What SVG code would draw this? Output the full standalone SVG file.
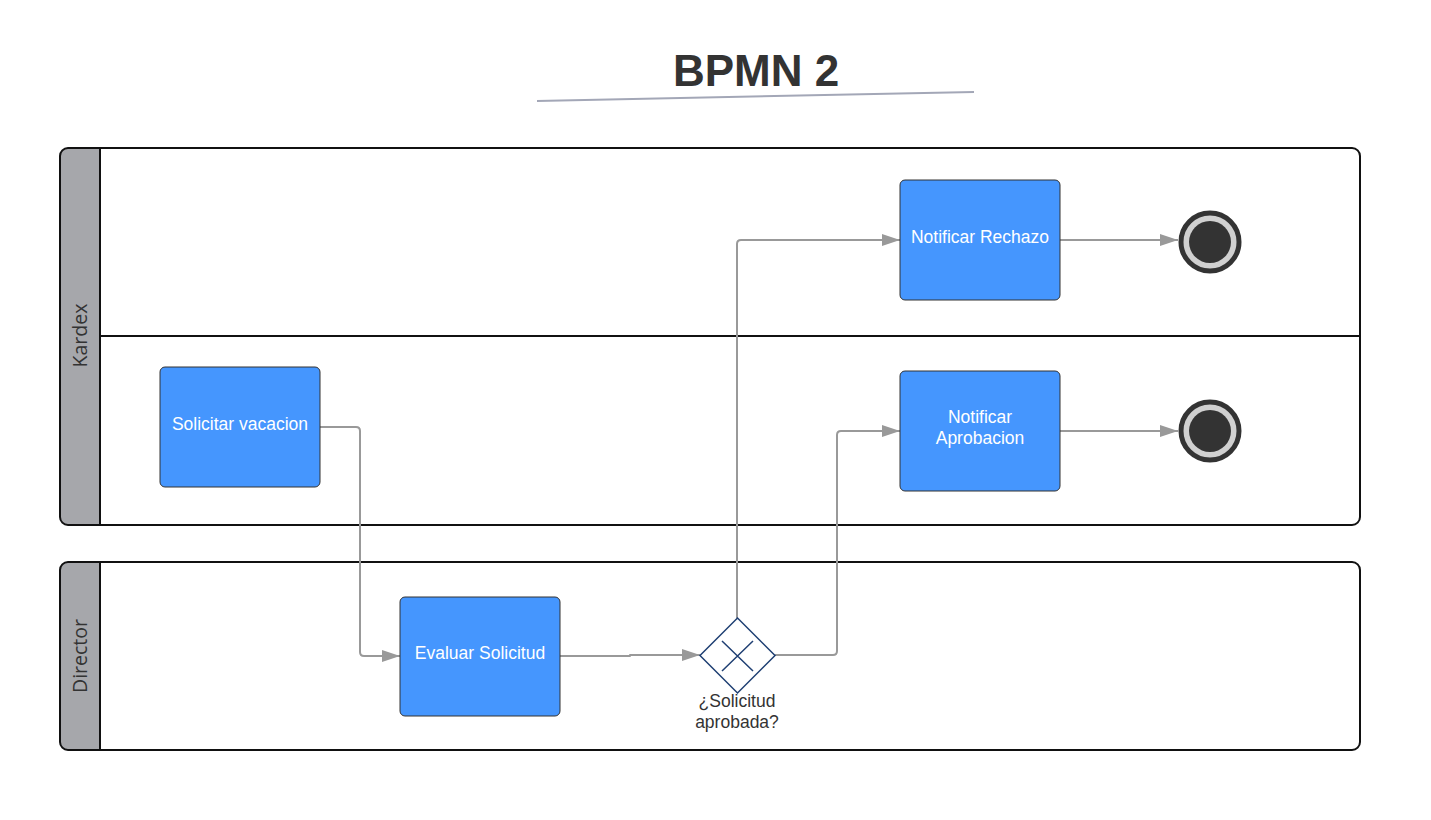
<svg xmlns="http://www.w3.org/2000/svg" width="1431" height="820" viewBox="0 0 1431 820">
<defs>
<style>
.pool{fill:#ffffff;stroke:#111;stroke-width:2}
.hdr{fill:#a6a7ab}
.lbl{font-family:"Open Sans","Liberation Sans",Arial,sans-serif;font-size:19.5px;fill:#333;text-anchor:middle}
.task{fill:#4596fe;stroke:#333;stroke-width:1}
.tt{font-family:"Liberation Sans",Arial,sans-serif;font-size:17.5px;fill:#fff;text-anchor:middle}
.conn{fill:none;stroke:#999;stroke-width:2;stroke-linejoin:round}
.gw{fill:#fff;stroke:#1f3f73;stroke-width:1.5}
.gl{font-family:"Liberation Sans",Arial,sans-serif;font-size:17.5px;fill:#333;text-anchor:middle}
</style>
<marker id="arr" viewBox="0 0 18 12" refX="18" refY="6" markerWidth="18" markerHeight="12" markerUnits="userSpaceOnUse" orient="auto">
<path d="M0,0 L18,6 L0,12 Z" fill="#999"/>
</marker>
<clipPath id="c1"><rect x="60" y="148" width="1300" height="377" rx="8"/></clipPath>
<clipPath id="c2"><rect x="60" y="562" width="1300" height="188" rx="8"/></clipPath>
</defs>
<rect width="1431" height="820" fill="#fff"/>
<g id="title">
<text x="756" y="86" font-family="Liberation Sans,Arial,sans-serif" font-size="44" font-weight="bold" fill="#333" text-anchor="middle">BPMN 2</text>
<line x1="537" y1="101" x2="974" y2="92" stroke="#a3a7b7" stroke-width="2"/>
</g>
<g id="pool-kardex">
<rect x="60" y="148" width="1300" height="377" rx="8" fill="#fff"/>
<rect x="60" y="148" width="40" height="377" class="hdr" clip-path="url(#c1)"/>
<line x1="100" y1="148" x2="100" y2="525" stroke="#111" stroke-width="2"/>
<line x1="100" y1="336" x2="1360" y2="336" stroke="#111" stroke-width="2"/>
<rect x="60" y="148" width="1300" height="377" rx="8" fill="none" stroke="#111" stroke-width="2"/>
<text class="lbl" transform="translate(86.5,335.5) rotate(-90)">Kardex</text>
</g>
<g id="pool-director">
<rect x="60" y="562" width="1300" height="188" rx="8" fill="#fff"/>
<rect x="60" y="562" width="40" height="188" class="hdr" clip-path="url(#c2)"/>
<line x1="100" y1="562" x2="100" y2="750" stroke="#111" stroke-width="2"/>
<rect x="60" y="562" width="1300" height="188" rx="8" fill="none" stroke="#111" stroke-width="2"/>
<text class="lbl" transform="translate(86.5,656) rotate(-90)">Director</text>
</g>
<g id="connectors">
<path class="conn" marker-end="url(#arr)" d="M320,427 H356 Q360,427 360,431 V652 Q360,656 364,656 H400"/>
<path class="conn" marker-end="url(#arr)" d="M560,656 H630 V655 H700"/>
<path class="conn" marker-end="url(#arr)" d="M737,618 V244 Q737,240 741,240 H900"/>
<path class="conn" marker-end="url(#arr)" d="M775,655 H833 Q837,655 837,651 V435 Q837,431 841,431 H900"/>
<path class="conn" marker-end="url(#arr)" d="M1060,240 H1178"/>
<path class="conn" marker-end="url(#arr)" d="M1060,431 H1178"/>
</g>
<g id="task-solicitar">
<rect class="task" x="160" y="367" width="160" height="120" rx="5"/>
<text class="tt" x="240" y="430">Solicitar vacacion</text>
</g>
<g id="task-evaluar">
<rect class="task" x="400" y="597" width="160" height="119" rx="5"/>
<text class="tt" x="480" y="659">Evaluar Solicitud</text>
</g>
<g id="task-rechazo">
<rect class="task" x="900" y="180" width="160" height="120" rx="5"/>
<text class="tt" x="980" y="243">Notificar Rechazo</text>
</g>
<g id="task-aprobacion">
<rect class="task" x="900" y="371" width="160" height="120" rx="5"/>
<text class="tt" x="980" y="423">Notificar</text>
<text class="tt" x="980" y="444">Aprobacion</text>
</g>
<g id="gateway">
<path class="gw" d="M737.5,618 L775,655.5 L737.5,693 L700,655.5 Z"/>
<path d="M722,641 L753,671 M753,641 L722,671" stroke="#1f3f73" stroke-width="1.5" fill="none"/>
<text class="gl" x="737" y="707">¿Solicitud</text>
<text class="gl" x="737" y="728">aprobada?</text>
</g>
<g id="end-rechazo">
<circle cx="1210" cy="242" r="29" fill="#d0d0d0" stroke="#333" stroke-width="5"/>
<circle cx="1210" cy="242" r="21" fill="#333"/>
</g>
<g id="end-aprobacion">
<circle cx="1210" cy="431" r="29" fill="#d0d0d0" stroke="#333" stroke-width="5"/>
<circle cx="1210" cy="431" r="21" fill="#333"/>
</g>
</svg>
